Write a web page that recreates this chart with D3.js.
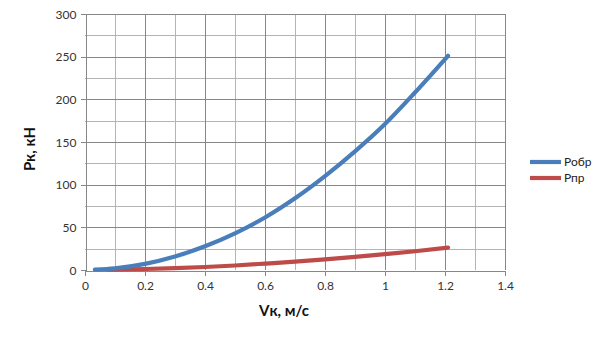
<!DOCTYPE html>
<html>
<head>
<meta charset="utf-8">
<script src="https://cdn.jsdelivr.net/npm/d3@7/dist/d3.min.js"></script>
<style>
  html, body { margin: 0; padding: 0; background: #fff; }
  svg { display: block; font-family: Lato, "Open Sans", sans-serif; }
</style>
</head>
<body>
<svg id="chart" width="605" height="340"></svg>
<script>
// Speed of the carriage, m/s
const speedObr = [0.033, 0.1, 0.2, 0.3, 0.4, 0.5, 0.6, 0.7, 0.8, 0.9, 1.0, 1.1, 1.21];
// Force Робр, kN
const forceObr = [0.5, 2, 7.2, 15.8, 27.8, 43, 61.5, 84, 110, 139, 171, 208, 251];
// Speed and force Рпр
const speedPr = [0.077, 0.2, 0.3, 0.4, 0.5, 0.6, 0.7, 0.8, 0.9, 1.0, 1.1, 1.21];
const forcePr = [0.4, 1.2, 2.2, 3.5, 5.3, 7.5, 9.8, 12.4, 15.3, 18.5, 22, 26.3];

const seriesNames = ["Робр", "Рпр"];
const seriesColors = ["#4a7ebb", "#be4b48"];

const xTicks = [0, 0.2, 0.4, 0.6, 0.8, 1, 1.2, 1.4];
const xMinor = [0.1, 0.3, 0.5, 0.7, 0.9, 1.1, 1.3];
const yTicks = [0, 50, 100, 150, 200, 250, 300];
const yMinor = [25, 75, 125, 175, 225, 275];

const xTitle = "Vк, м/с";
const yTitle = "Рк, кН";

const svg = d3.select("#chart");
const plotL = 85, plotR = 505, plotT = 14, plotB = 270;

const x = d3.scaleLinear().domain([0, 1.4]).range([plotL, plotR]);
const y = d3.scaleLinear().domain([0, 300]).range([plotB, plotT]);

const grid = svg.append("g").attr("shape-rendering", "crispEdges");
// minor grid
grid.selectAll("line.vx").data(xMinor).join("line")
  .attr("x1", d => Math.round(x(d)) + 0.5).attr("x2", d => Math.round(x(d)) + 0.5)
  .attr("y1", plotT).attr("y2", plotB).attr("stroke", "#b4b4b4");
grid.selectAll("line.hy").data(yMinor).join("line")
  .attr("y1", d => Math.round(y(d)) + 0.5).attr("y2", d => Math.round(y(d)) + 0.5)
  .attr("x1", plotL).attr("x2", plotR).attr("stroke", "#b4b4b4");
// major grid
grid.selectAll("line.vmx").data(xTicks.slice(1)).join("line")
  .attr("x1", d => Math.round(x(d)) + 0.5).attr("x2", d => Math.round(x(d)) + 0.5)
  .attr("y1", plotT).attr("y2", plotB).attr("stroke", "#878787");
grid.selectAll("line.hmy").data(yTicks.slice(1)).join("line")
  .attr("y1", d => Math.round(y(d)) + 0.5).attr("y2", d => Math.round(y(d)) + 0.5)
  .attr("x1", plotL).attr("x2", plotR).attr("stroke", "#878787");

// axes
const xAxis = d3.axisBottom(x).tickValues(xTicks).tickFormat(d => String(d)).tickSizeInner(5).tickSizeOuter(0).tickPadding(6);
const yAxis = d3.axisLeft(y).tickValues(yTicks).tickFormat(d => String(d)).tickSizeInner(5).tickSizeOuter(0).tickPadding(4);

const gx = svg.append("g").attr("transform", `translate(0,${plotB + 0.5})`).call(xAxis);
const gy = svg.append("g").attr("transform", `translate(${plotL + 0.5},0)`).call(yAxis);
[gx, gy].forEach(g => {
  g.attr("shape-rendering", "crispEdges");
  g.select(".domain").attr("stroke", "#878787");
  g.selectAll(".tick line").attr("stroke", "#878787");
  g.selectAll(".tick text").attr("fill", "#333").style("font-size", "12px").style("font-family", "Lato, sans-serif");
});
gy.selectAll(".tick text").attr("dy", "0.35em");

// series lines, smoothed through the measured points
const line = d3.line().x(d => x(d[0])).y(d => y(d[1])).curve(d3.curveMonotoneX);
const dataObr = speedObr.map((v, i) => [v, forceObr[i]]);
const dataPr = speedPr.map((v, i) => [v, forcePr[i]]);
[dataPr, dataObr].forEach((data, k) => {
  svg.append("path").datum(data)
    .attr("d", line)
    .attr("fill", "none")
    .attr("stroke", k === 0 ? seriesColors[1] : seriesColors[0])
    .attr("stroke-width", 4.2)
    .attr("stroke-linejoin", "round")
    .attr("stroke-linecap", "round");
});

// axis titles
svg.append("text").attr("x", 284).attr("y", 316).attr("text-anchor", "middle")
  .style("font-size", "15px").style("font-weight", "bold").attr("fill", "#111").text(xTitle);
svg.append("text").attr("transform", "translate(35,149) rotate(-90)").attr("text-anchor", "middle")
  .style("font-size", "15px").style("font-weight", "bold").attr("fill", "#111").text(yTitle);

// legend
const legend = svg.append("g");
seriesNames.forEach((name, i) => {
  const ly = 162 + i * 16;
  legend.append("line").attr("x1", 530).attr("x2", 561).attr("y1", ly).attr("y2", ly)
    .attr("stroke", seriesColors[i]).attr("stroke-width", 4.2);
  legend.append("text").attr("x", 564).attr("y", ly).attr("dy", "0.35em")
    .style("font-size", "12px").attr("fill", "#222").text(name);
});
</script>
</body>
</html>
